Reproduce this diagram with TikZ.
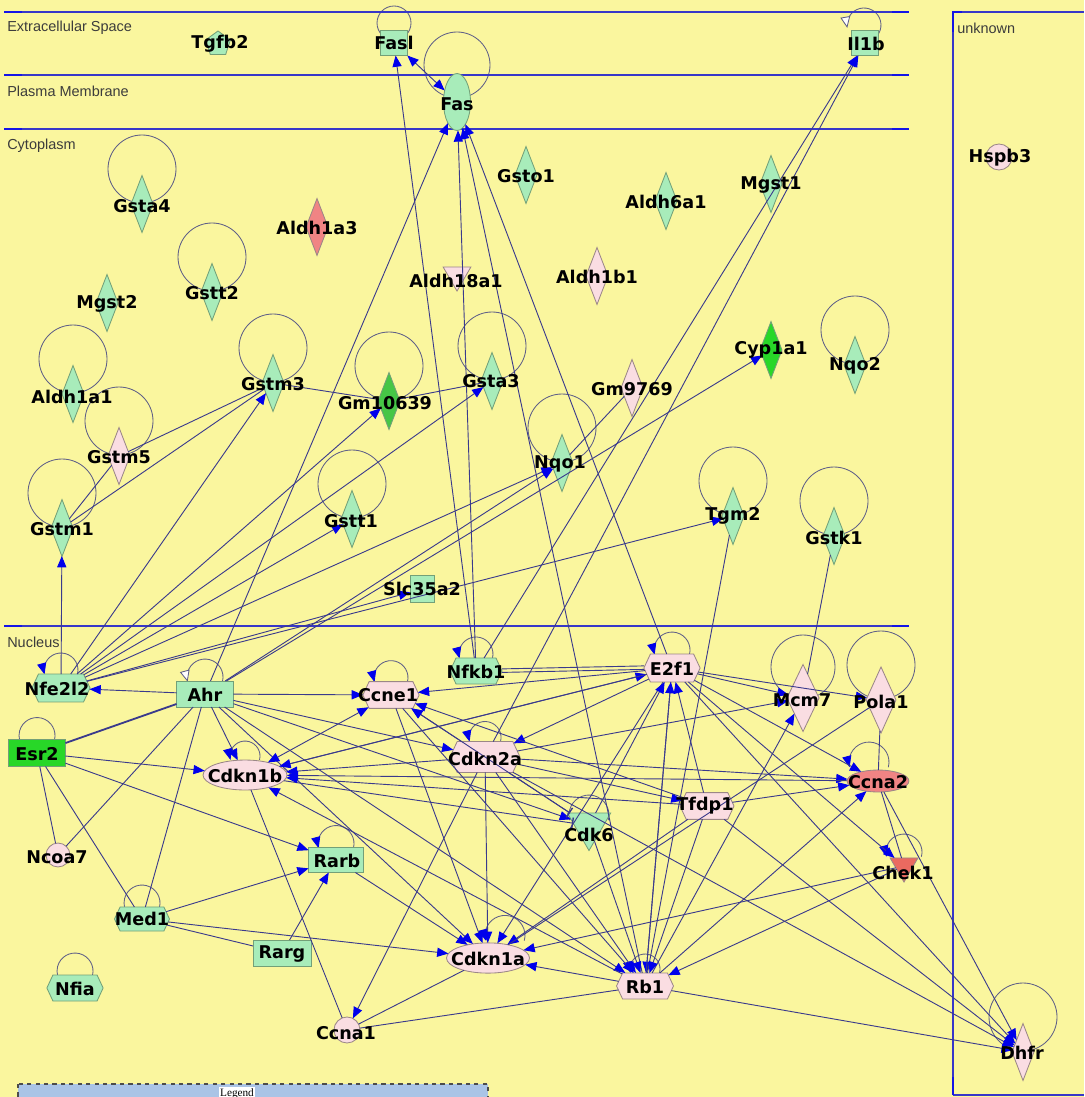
\documentclass[tikz,border=0pt]{standalone}
\usepackage{fontspec}
\setmainfont{Liberation Sans}
\newfontfamily\genefont{DejaVu Sans}
\newfontfamily\legendfont{Liberation Serif}
\usetikzlibrary{shapes.geometric,shapes.symbols,arrows.meta}
\pgfdeclarelayer{back}
\pgfdeclarelayer{rings}
\pgfsetlayers{back,rings,main}
\definecolor{paper}{RGB}{250,246,158}
\definecolor{wallc}{RGB}{55,55,200}
\definecolor{wallendc}{RGB}{20,20,230}
\definecolor{roomtext}{RGB}{60,60,60}
\definecolor{edgec}{RGB}{58,58,140}
\definecolor{tipc}{RGB}{0,0,235}
\definecolor{ringc}{RGB}{95,95,135}
\definecolor{mint}{RGB}{168,236,186}
\definecolor{mintline}{RGB}{115,160,120}
\definecolor{blush}{RGB}{250,221,226}
\definecolor{blushline}{RGB}{155,135,135}
\definecolor{salmon}{RGB}{240,132,132}
\definecolor{chekc}{RGB}{234,106,96}
\definecolor{leaf}{RGB}{40,215,40}
\definecolor{leafdark}{RGB}{70,198,70}
\definecolor{legendc}{RGB}{170,196,230}
\begin{document}
\begin{tikzpicture}
		[x=0.025cm,y=0.025cm,
		gene/.style={line width=0.6pt,inner sep=0pt,outer sep=0pt},
		upreg/.style={gene,fill=mint,draw=mintline},
		downreg/.style={gene,fill=blush,draw=blushline},
		hireg/.style={gene,fill=salmon,draw=blushline},
		topreg/.style={gene,fill=leaf,draw=mintline},
		enzyme/.style={diamond,minimum width=15.6pt,minimum height=40.5pt},
		kinase/.style={regular polygon,regular polygon sides=3,shape border rotate=180,minimum size=22.8pt},
		hexa/.style={signal,signal to=west and east,signal pointer angle=130,minimum width=40pt,minimum height=19pt},
		nreceptor/.style={rectangle,minimum width=40.5pt,minimum height=18.5pt},
		cytokine/.style={rectangle,minimum width=19.2pt,minimum height=17.8pt},
		oval/.style={ellipse,minimum width=59pt,minimum height=21.5pt},
		other/.style={circle,minimum size=18.5pt},
		tag/.style={inner sep=0pt,font=\genefont\bfseries\fontsize{12.5}{14}\selectfont},
		room/.style={anchor=west,inner sep=0pt,text=roomtext,font=\fontsize{10.3}{12}\selectfont},
		wall/.style={draw=wallc,line width=1pt},
		wallend/.style={draw=wallendc,line width=2pt},
		ring/.style={draw=ringc,line width=0.6pt},
		act/.style={draw=edgec,line width=0.65pt,-{Triangle[length=8pt,width=6.5pt,color=tipc]}},
		twoway/.style={draw=edgec,line width=0.65pt,{Triangle[length=8pt,width=6.5pt,color=tipc]}-{Triangle[length=8pt,width=6.5pt,color=tipc]}},
		rel/.style={draw=edgec,line width=0.65pt},
		inh/.style={draw=edgec,line width=0.65pt,-{Bar[width=8pt,line width=1pt]}},
		selfact/.style={ring,-{Triangle[length=8pt,width=6.5pt,color=tipc]}},
		selfopen/.style={ring,-{Triangle[length=8pt,width=7pt,color=ringc,fill=white]}}]
		\useasboundingbox (0,0) rectangle (1084,-1097);
		\begin{pgfonlayer}{back}
		\fill[paper] (0,0) rectangle (1084,-1097);
		\end{pgfonlayer}
		\clip (0,0) rectangle (1084,-1097);
		% compartments
		\foreach \y in {12,75,129,626}
			{\draw[wall] (4,-\y) -- (909,-\y);
			\draw[wallend] (4,-\y) -- (22,-\y) (892,-\y) -- (909,-\y);}
		\draw[wall] (953,-1095) -- (953,-12) -- (1084,-12) (953,-1095) -- (1084,-1095);
		\draw[wallend] (953,-32) -- (953,-12) -- (962,-12) (953,-1077) -- (953,-1095);
		\node at (7,-28) (extra) [room] {Extracellular Space};
		\node at (7,-91) (membrane) [room] {Plasma Membrane};
		\node at (7,-146) (cyto) [room] {Cytoplasm};
		\node at (7,-642) (nucleus) [room] {Nucleus};
		\node at (957,-28) (unknown) [room] {unknown};
		\draw[fill=legendc,draw=gray!60!black,dashed,line width=0.8pt] (18,-1084) rectangle (488,-1110);
		\node at (237,-1094) (legend) [fill=white,inner sep=1pt,font=\legendfont\fontsize{8}{9}\selectfont] {Legend};
		% genes
		\node at (218,-44) (Tgfb2) [upreg,regular polygon,regular polygon sides=5,minimum size=18.5pt] {};
		\node at (394,-43) (Fasl) [upreg,cytokine] {};
		\node at (457,-102) (Fas) [upreg,ellipse,minimum width=19.2pt,minimum height=40.5pt] {};
		\node at (865,-43) (Il1b) [upreg,cytokine] {};
		\node at (999,-157) (Hspb3) [downreg,other] {};
		\node at (142,-204) (Gsta4) [upreg,enzyme] {};
		\node at (317,-227) (Aldh1a3) [hireg,enzyme] {};
		\node at (212,-292) (Gstt2) [upreg,enzyme] {};
		\node at (107,-303) (Mgst2) [upreg,enzyme] {};
		\node at (526,-175) (Gsto1) [upreg,enzyme] {};
		\node at (666,-201) (Aldh6a1) [upreg,enzyme] {};
		\node at (771,-184) (Mgst1) [upreg,enzyme] {};
		\node at (457,-275) (Aldh18a1) [downreg,kinase] {};
		\node at (597,-276) (Aldh1b1) [downreg,enzyme] {};
		\node at (771,-350) (Cyp1a1) [topreg,enzyme] {};
		\node at (855,-365) (Nqo2) [upreg,enzyme] {};
		\node at (73,-394) (Aldh1a1) [upreg,enzyme] {};
		\node at (273,-383) (Gstm3) [upreg,enzyme] {};
		\node at (389,-401) (Gm10639) [upreg,enzyme,fill=leafdark] {};
		\node at (492,-381) (Gsta3) [upreg,enzyme] {};
		\node at (632,-388) (Gm9769) [downreg,enzyme] {};
		\node at (562,-463) (Nqo1) [upreg,enzyme] {};
		\node at (119,-456) (Gstm5) [downreg,enzyme] {};
		\node at (62,-528) (Gstm1) [upreg,enzyme] {};
		\node at (352,-519) (Gstt1) [upreg,enzyme] {};
		\node at (733,-516) (Tgm2) [upreg,enzyme] {};
		\node at (834,-536) (Gstk1) [upreg,enzyme] {};
		\node at (422,-589) (Slc35a2) [upreg,rectangle,minimum width=17pt,minimum height=19.2pt] {};
		\node at (61,-688) (Nfe2l2) [upreg,hexa,minimum width=41.3pt,minimum height=19.9pt] {};
		\node at (205,-694) (Ahr) [upreg,nreceptor] {};
		\node at (476,-671) (Nfkb1) [upreg,hexa,minimum width=37pt,minimum height=18.5pt] {};
		\node at (391,-695) (Ccne1) [downreg,hexa] {};
		\node at (672,-668) (E2f1) [downreg,hexa,minimum height=19.9pt] {};
		\node at (803,-698) (Mcm7) [downreg,enzyme,minimum width=22.8pt,minimum height=47.7pt] {};
		\node at (881,-700) (Pola1) [downreg,enzyme,minimum width=21.3pt,minimum height=47pt] {};
		\node at (37,-753) (Esr2) [topreg,nreceptor,minimum height=19.2pt] {};
		\node at (485,-757) (Cdkn2a) [downreg,hexa,minimum width=49.8pt,minimum height=22pt] {};
		\node at (245,-775) (Cdkn1b) [downreg,oval,minimum width=59.7pt,minimum height=21.3pt] {};
		\node at (878,-781) (Ccna2) [hireg,oval,minimum width=44pt,minimum height=15.6pt] {};
		\node at (707,-806) (Tfdp1) [downreg,hexa,minimum width=38.4pt] {};
		\node at (589,-825.5) (Cdk6) [upreg,kinase,minimum size=35.6pt] {};
		\node at (58,-855) (Ncoa7) [downreg,other,minimum size=17pt] {};
		\node at (336,-860) (Rarb) [upreg,nreceptor,minimum width=39pt,minimum height=17.8pt] {};
		\node at (904,-866) (Chek1) [hireg,kinase,fill=chekc] {};
		\node at (142,-919) (Med1) [upreg,hexa,minimum width=39.1pt,minimum height=17.1pt] {};
		\node at (282,-953) (Rarg) [upreg,nreceptor,minimum width=41.3pt] {};
		\node at (488,-958) (Cdkn1a) [downreg,oval] {};
		\node at (645,-986) (Rb1) [downreg,hexa,minimum width=40.5pt,minimum height=18.5pt] {};
		\node at (75,-988) (Nfia) [upreg,hexa,minimum height=18.5pt] {};
		\node at (347,-1030) (Ccna1) [downreg,other] {};
		\node at (1023,-1052) (Dhfr) [downreg,enzyme] {};
		% self loops
		\begin{pgfonlayer}{rings}
		\foreach \g in {Gsta4,Gstt2,Nqo2,Aldh1a1,Gstm3,Gm10639,Gsta3,Nqo1,Gstm5,Gstm1,Gstt1,Tgm2,Gstk1,Pola1,Dhfr}
			\draw[ring] (\g.center) ++(0,35) circle[radius=34];
		\draw[ring] (Mcm7.center) ++(0,31) circle[radius=32];
		\draw[ring] (Fas.center) ++(0,37) circle[radius=33];
		\draw[ring] (Fasl.center) ++(0,20) circle[radius=17];
		\draw[selfopen] (Il1b.center) ++(13.7,9.5) arc[start angle=-30,end angle=190,radius=17];
		\draw[selfact] (Nfe2l2.north) ++(16.4,-0.4) arc[start angle=-15,end angle=195,radius=17];
		\draw[selfopen] (Ahr.north) ++(17.4,-0.7) arc[start angle=-15,end angle=195,radius=18];
		\draw[selfact] (Nfkb1.north) ++(16.4,-0.4) arc[start angle=-15,end angle=195,radius=17];
		\draw[selfact] (Ccne1.north) ++(16.4,-0.4) arc[start angle=-15,end angle=195,radius=17];
		\draw[selfact] (E2f1.north) ++(17.4,-0.7) arc[start angle=-15,end angle=195,radius=18];
		\draw[selfact] (Cdkn2a.north) ++(15.5,-0.1) arc[start angle=-15,end angle=195,radius=16];
		\draw[selfact] (Cdkn1b.north) ++(14.5,0.1) arc[start angle=-15,end angle=195,radius=15];
		\draw[ring] (Esr2.north) ++(17.4,-0.7) arc[start angle=-15,end angle=195,radius=18];
		\draw[selfact] (Rarb.north) ++(17.4,-0.7) arc[start angle=-15,end angle=195,radius=18];
		\draw[ring] (Cdk6.center) ++(19.3,5.3) arc[start angle=-15,end angle=195,radius=20];
		\draw[ring] (Med1.north) ++(17.4,-0.7) arc[start angle=-15,end angle=195,radius=18];
		\draw[selfact] (Ccna2.north) ++(10.3,2.8) arc[start angle=-15,end angle=195,radius=20];
		\draw[selfact] (Chek1.center) ++(17.4,9.3) arc[start angle=-15,end angle=195,radius=18];
		\draw[selfact] (Rb1.north) ++(14.5,0.1) arc[start angle=-15,end angle=195,radius=15];
		\draw[selfact] (Cdkn1a.north) ++(36.3,2.3) arc[start angle=-15,end angle=195,radius=20];
		\draw[ring] (Nfia.north) ++(17.4,-0.7) arc[start angle=-15,end angle=195,radius=18];
		\end{pgfonlayer}
		% cytoplasm and membrane
		\path (Fasl) edge[twoway] (Fas);
		\path (Nfkb1) edge[act] (Fasl) edge[act] (Fas) edge[act] (Il1b);
		\path (Cdkn2a) edge[act] (Il1b);
		\path (Nfe2l2) edge[act] (Gstm1) edge[act] (Gstm3) edge[act] (Gm10639) edge[act] (Gsta3)
			edge[act] (Nqo1) edge[act] (Gstt1) edge[act] (Slc35a2) edge[act] (Tgm2);
		\path (Gstm3) edge[rel] (Gstm1) edge[rel] (Gstm5) edge[rel] (Gm10639);
		\path (Gstm5) edge[rel] (Gstm1);
		\path (Gm10639) edge[rel] (Gsta3);
		\path (Nqo1) edge[rel] (Gm9769);
		\path (Gstk1) edge[rel] (Mcm7);
		% nucleus
		\path (Ahr) edge[act] (Fas) edge[act] (Nqo1) edge[act] (Cyp1a1) edge[act] (Nfe2l2)
			edge[act] (Ccne1) edge[act] (Cdkn1b) edge[act] (Cdkn2a) edge[act] (Cdk6)
			edge[act] (Cdkn1a) edge[act] (Rb1) edge[rel] (Ncoa7) edge[rel] (Med1)
			edge[rel,line width=1.3pt] (Esr2);
		\path (Esr2) edge[act] (Cdkn1b) edge[act] (Rarb) edge[rel] (Ncoa7) edge[rel] (Med1);
		\path (Med1) edge[act] (Rarb) edge[act] (Cdkn1a) edge[rel] (Rarg);
		\path (Rarg) edge[act] (Rarb);
		\path (Rarb) edge[act] (Cdkn1a);
		\path (Cdkn1b) edge[twoway] (Ccne1) edge[act] (E2f1) edge[inh] (Cdk6) edge[rel] (Ccna1);
		\path (Cdkn2a) edge[act] (Ccne1) edge[act] (Cdkn1b) edge[act] (Tfdp1) edge[act] (Mcm7)
			edge[act] (Ccna2) edge[act] (Cdkn1a) edge[act] (Rb1) edge[act] (Ccna1)
			edge[act] (Dhfr) edge[inh] (Cdk6);
		\path (E2f1) edge[act] (Fas) edge[act] (Ccne1) edge[act] (Cdkn2a) edge[act] (Cdkn1b)
			edge[act] (Mcm7) edge[act] (Pola1) edge[act] (Ccna2) edge[act] (Chek1)
			edge[act] (Dhfr) edge[act] (Cdkn1a) edge[act] (Rb1);
		\draw[rel] ([yshift=1.5pt]E2f1.west) -- ([yshift=1.5pt]Nfkb1.east);
		\draw[rel] ([yshift=-1pt]E2f1.west) -- ([yshift=-1pt]Nfkb1.east);
		\path (Rb1) edge[act] (Fas) edge[act] (E2f1) edge[act] (Cdkn1b) edge[act] (Cdkn1a)
			edge[act] (Mcm7) edge[act] (Ccna2) edge[act] (Dhfr) edge[rel] (Ccna1) edge[rel] (Tgm2);
		\path (Cdk6) edge[act] (E2f1) edge[act] (Rb1) edge[act] (Ccne1);
		\path (Tfdp1) edge[act] (E2f1) edge[act] (Ccne1) edge[act] (Cdkn1b) edge[act] (Ccna2)
			edge[act] (Rb1) edge[act] (Cdkn1a) edge[act] (Dhfr);
		\path (Ccne1) edge[act] (Cdkn1a) edge[act] (Rb1);
		\path (Ccna2) edge[act] (Cdkn1b) edge[act] (Dhfr) edge[rel] (Chek1);
		\path (Chek1) edge[act] (Rb1) edge[act] (Cdkn1a);
		\path (Pola1) edge[rel] (Ccna2) edge[rel] (Cdkn1a);
		\path (Cdkn1a) edge[rel] (Ccna1);
		% names
		\node at (220,-44) (Tgfb2-t) [tag] {Tgfb2};
		\node at (394,-43) (Fasl-t) [tag] {Fasl};
		\node at (457,-104) (Fas-t) [tag] {Fas};
		\node at (866,-44) (Il1b-t) [tag] {Il1b};
		\node at (1000,-158) (Hspb3-t) [tag] {Hspb3};
		\node at (142,-206) (Gsta4-t) [tag] {Gsta4};
		\node at (317,-228) (Aldh1a3-t) [tag] {Aldh1a3};
		\node at (212,-293) (Gstt2-t) [tag] {Gstt2};
		\node at (107,-304) (Mgst2-t) [tag] {Mgst2};
		\node at (526,-176) (Gsto1-t) [tag] {Gsto1};
		\node at (666,-202) (Aldh6a1-t) [tag] {Aldh6a1};
		\node at (771,-185) (Mgst1-t) [tag] {Mgst1};
		\node at (456,-281) (Aldh18a1-t) [tag] {Aldh18a1};
		\node at (597,-277) (Aldh1b1-t) [tag] {Aldh1b1};
		\node at (771,-350) (Cyp1a1-t) [tag] {Cyp1a1};
		\node at (855,-366) (Nqo2-t) [tag] {Nqo2};
		\node at (72,-397) (Aldh1a1-t) [tag] {Aldh1a1};
		\node at (273,-384) (Gstm3-t) [tag] {Gstm3};
		\node at (385,-403) (Gm10639-t) [tag] {Gm10639};
		\node at (491,-381) (Gsta3-t) [tag] {Gsta3};
		\node at (632,-389) (Gm9769-t) [tag] {Gm9769};
		\node at (560,-464) (Nqo1-t) [tag] {Nqo1};
		\node at (119,-457) (Gstm5-t) [tag] {Gstm5};
		\node at (62,-529) (Gstm1-t) [tag] {Gstm1};
		\node at (351,-521) (Gstt1-t) [tag] {Gstt1};
		\node at (733,-516) (Tgm2-t) [tag] {Tgm2};
		\node at (834,-538) (Gstk1-t) [tag] {Gstk1};
		\node at (422,-589) (Slc35a2-t) [tag] {Slc35a2};
		\node at (57,-689) (Nfe2l2-t) [tag] {Nfe2l2};
		\node at (205,-695) (Ahr-t) [tag] {Ahr};
		\node at (476,-672) (Nfkb1-t) [tag] {Nfkb1};
		\node at (388,-695) (Ccne1-t) [tag] {Ccne1};
		\node at (672,-669) (E2f1-t) [tag] {E2f1};
		\node at (802,-700) (Mcm7-t) [tag] {Mcm7};
		\node at (881,-702) (Pola1-t) [tag] {Pola1};
		\node at (37,-754) (Esr2-t) [tag] {Esr2};
		\node at (485,-759) (Cdkn2a-t) [tag] {Cdkn2a};
		\node at (245,-776) (Cdkn1b-t) [tag] {Cdkn1b};
		\node at (878,-782) (Ccna2-t) [tag] {Ccna2};
		\node at (705,-806) (Tfdp1-t) [tag] {Tfdp1};
		\node at (589,-835) (Cdk6-t) [tag] {Cdk6};
		\node at (57,-857) (Ncoa7-t) [tag] {Ncoa7};
		\node at (337,-861) (Rarb-t) [tag] {Rarb};
		\node at (903,-873) (Chek1-t) [tag] {Chek1};
		\node at (142,-919) (Med1-t) [tag] {Med1};
		\node at (282,-954) (Rarg-t) [tag] {Rarg};
		\node at (488,-959) (Cdkn1a-t) [tag] {Cdkn1a};
		\node at (645,-987) (Rb1-t) [tag] {Rb1};
		\node at (75,-989) (Nfia-t) [tag] {Nfia};
		\node at (346,-1033) (Ccna1-t) [tag] {Ccna1};
		\node at (1022,-1053) (Dhfr-t) [tag] {Dhfr};
	\end{tikzpicture}
\end{document}
